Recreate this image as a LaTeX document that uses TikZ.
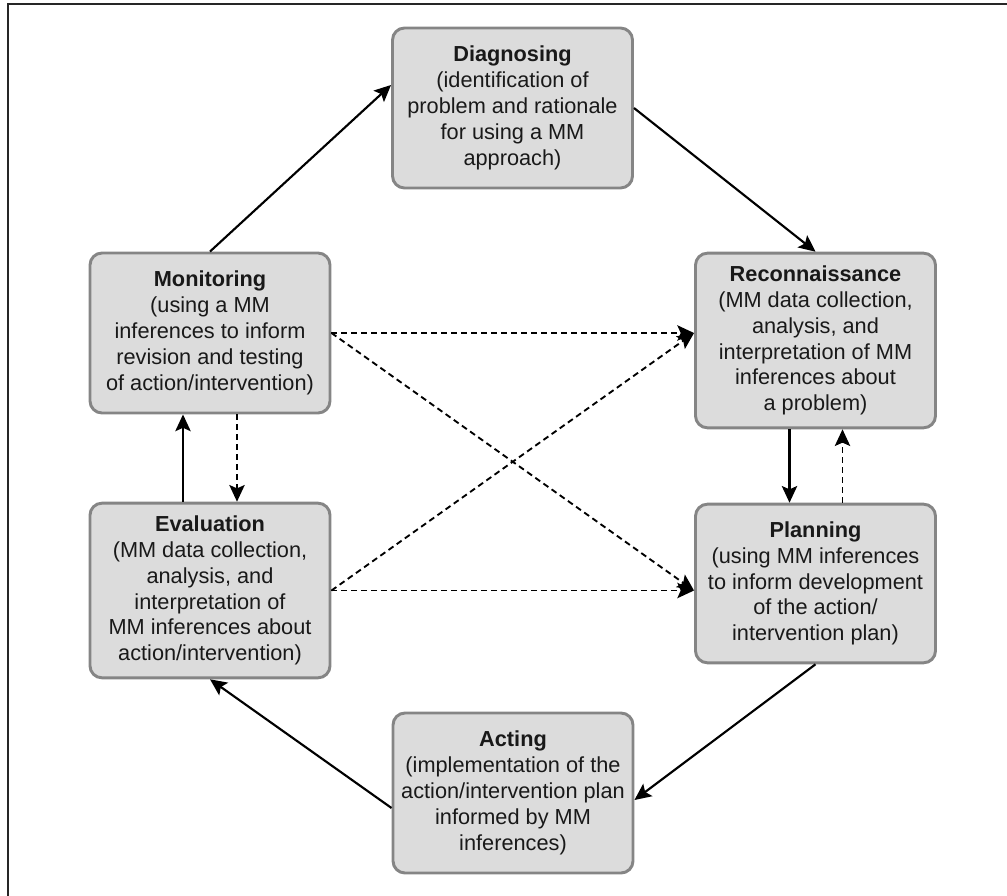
\documentclass[tikz,border=0pt]{standalone}
\usepackage{fontspec}
\setmainfont{Liberation Sans}
\usetikzlibrary{arrows.meta,calc}

\definecolor{boxfill}{HTML}{DCDCDC}
\definecolor{boxedge}{HTML}{858585}

\tikzset{
  stage/.style={draw=boxedge, line width=2.2pt, fill=boxfill, rounded corners=9pt,
    minimum width=180pt, align=center, inner sep=2pt,
    font=\fontsize{16.3}{19.4}\selectfont, text=black!90},
  flow/.style={line width=1.6pt, -{Stealth[length=12.5pt,width=11.5pt,inset=2.5pt]}},
  link/.style={flow, line width=1.4pt, dash pattern=on 4.5pt off 3pt}
}

\begin{document}
\begin{tikzpicture}[x=0.75pt, y=-0.75pt]
  \useasboundingbox (0,0) rectangle (1007,896);

  % outer frame (top and left edges)
  \draw[line width=1.5pt, black!85] (7.5,896) -- (7.5,3.5) -- (1007,3.5);

  % stages of the cycle
  \node[stage, minimum height=120pt] (diag) at (512.5,108)
    {\textbf{Diagnosing}\\(identification of\\problem and rationale\\for using a MM\\approach)};
  \node[stage, minimum height=120pt] (mon) at (210,333)
    {\textbf{Monitoring}\\(using a MM\\inferences to inform\\revision and testing\\of action/intervention)};
  \node[stage, minimum height=131pt] (rec) at (815.5,340.5)
    {\textbf{Reconnaissance}\\(MM data collection,\\analysis, and\\interpretation of MM\\inferences about\\a problem)};
  \node[stage, minimum height=131pt] (eval) at (210,590.5)
    {\textbf{Evaluation}\\(MM data collection,\\analysis, and\\interpretation of\\MM inferences about\\action/intervention)};
  \node[stage, minimum height=119pt] (plan) at (815.5,583.5)
    {\textbf{Planning}\\(using MM inferences\\to inform development\\of the action/\\intervention plan)};
  \node[stage, minimum height=120pt] (act) at (513,793)
    {\textbf{Acting}\\(implementation of the\\action/intervention plan\\informed by MM\\inferences)};

  % anchor points for the connectors
  \coordinate (diagIn)  at ($(diag.west)+(0,-23)$);
  \coordinate (recIn)   at (rec.west |- mon.east);
  \coordinate (planIn)  at (plan.west |- eval.east);
  \coordinate (actIn)   at ($(act.east)+(0,7)$);
  \coordinate (actOut)  at ($(act.west)+(0,15)$);

  % main cycle
  \draw[flow] (mon.north) -- (diagIn);
  \draw[flow] (diag.east) -- (rec.north);
  \draw[flow] ($(rec.south)+(-26,0)$) -- ($(plan.north)+(-26,0)$);
  \draw[flow] (plan.south) -- (actIn);
  \draw[flow] (actOut) -- (eval.south);
  \draw[flow] ($(eval.north)+(-27,0)$) -- ($(mon.south)+(-27,0)$);

  % feedback links
  \draw[link] ($(plan.north)+(27,0)$) -- ($(rec.south)+(27,0)$);
  \draw[link] ($(mon.south)+(27,0)$) -- ($(eval.north)+(27,0)$);
  \draw[link] (mon.east) -- (recIn);
  \draw[link] (mon.east) -- (planIn);
  \draw[link] (eval.east) -- (recIn);
  \draw[link] (eval.east) -- (planIn);
\end{tikzpicture}
\end{document}
